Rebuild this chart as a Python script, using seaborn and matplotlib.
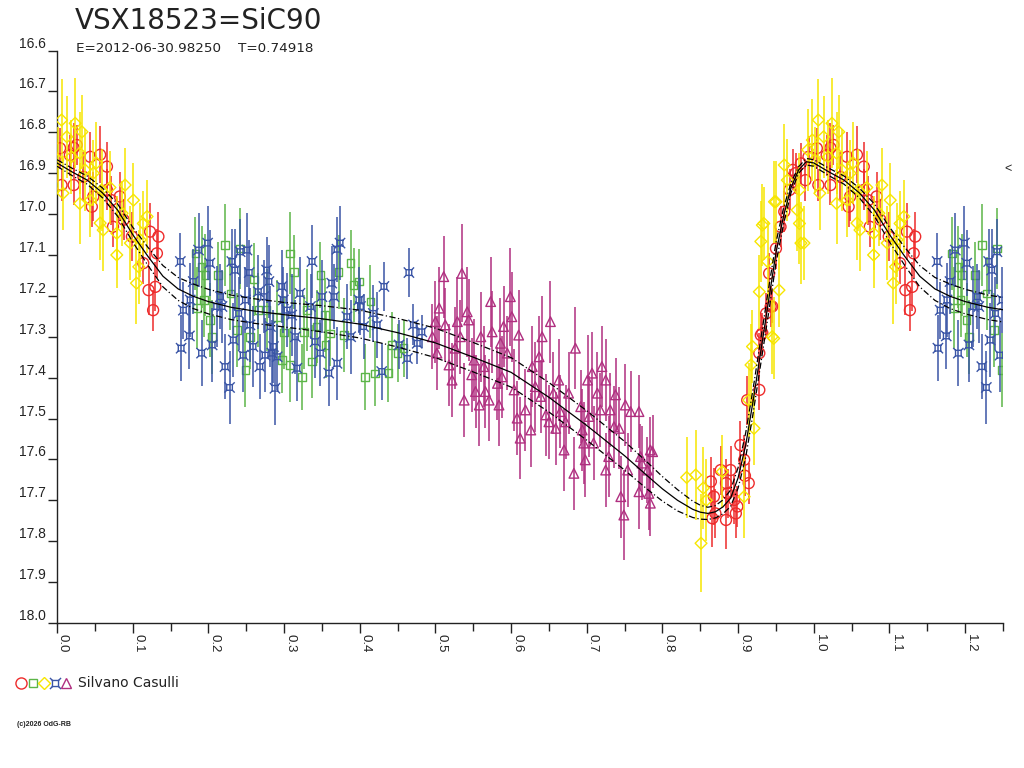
import numpy as np
import pandas as pd
import matplotlib
matplotlib.use("Agg")
import matplotlib.pyplot as plt
from matplotlib.path import Path
from matplotlib.lines import Line2D
import seaborn as sns

sns.set_theme(style="white")
plt.rcParams['font.family'] = ['Liberation Sans', 'DejaVu Sans']

# ---------------- data (phase, magnitude, error) ----------------
red_phase = [.004, .006, .017, .022, .022, .026, .035, .044, .046, .048, .057, .066, .066, .072, .074,
             .083, .088, .099, .114, .121, .123, .127, .130, .132, .134,
             .864, .866, .868, .870, .877, .884, .884, .886, .890, .895, .897, .899, .903, .908, .909,
             .912, .914, .928, .928, .930, .932, .937, .941, .943, .945, .950, .956, .961, .968, .972,
             .976, .983, .989, .993]
red_mag = [16.839, 16.929, 16.856, 16.929, 16.838, 16.831, 16.909, 16.860, 16.982, 16.957, 16.855, 16.884,
           16.941, 16.966, 17.031, 16.957, 17.014, 17.055, 17.120, 17.186, 17.043, 17.235, 17.178, 17.096,
           17.055,
           17.654, 17.744, 17.691, 17.732, 17.626, 17.748, 17.658, 17.683, 17.626, 17.699, 17.732, 17.715,
           17.565, 17.601, 17.640, 17.455, 17.658, 17.430, 17.340, 17.296, 17.291, 17.243, 17.145, 17.226,
           17.226, 17.084, 17.031, 16.994, 16.941, 16.892, 16.900, 16.876, 16.917, 16.860]
red_err = [.05, .04, .05, .05, .06, .05, .06, .06, .05, .06, .07, .06, .05, .06, .05, .06, .05, .06, .05,
           .06, .07, .05, .06, .06, .06,
           .06, .07, .07, .06, .06, .07, .06, .06, .06, .06, .06, .05, .06, .06, .05, .06, .05, .05, .05,
           .05, .05, .05, .05, .05, .04, .05, .05, .05, .05, .05, .05, .05, .05, .05]

yellow_phase = [.001, .006, .008, .013, .019, .024, .030, .030, .033, .037, .044, .048, .052, .057, .059,
                .061, .070, .079, .079, .086, .090, .097, .101, .105, .108, .110, .114, .119,
                .832, .844, .851, .854, .858, .879, .908, .914, .917, .919, .921, .928, .930, .932, .934,
                .939, .945, .947, .948, .950, .954, .961, .965, .978, .981, .981, .983, .987, .992, .998]
yellow_mag = [16.868, 16.770, 16.949, 16.811, 16.860, 16.778, 16.851, 16.974, 16.799, 16.892, 16.966,
              16.900, 16.875, 17.022, 16.941, 17.039, 16.935, 17.100, 17.047, 16.998, 16.929, 17.071,
              16.966, 17.169, 17.129, 17.063, 17.023, 17.006,
              17.644, 17.638, 17.805, 17.670, 17.700, 17.630, 17.691, 17.455, 17.369, 17.324, 17.524,
              17.190, 17.067, 17.027, 17.023, 17.116, 17.300, 17.304, 16.970, 16.970, 17.186, 16.880,
              16.917, 16.990, 16.941, 17.023, 17.071, 17.071, 16.843, 16.819]
yellow_err = [.08, .10, .09, .10, .09, .11, .10, .10, .09, .10, .09, .08, .10, .09, .10, .10, .09, .08,
              .09, .08, .09, .09, .09, .10, .09, .09, .08, .09,
              .10, .11, .12, .10, .10, .09, .10, .09, .10, .09, .09, .09, .10, .10, .09, .10, .09, .10,
              .10, .10, .09, .10, .10, .10, .09, .10, .10, .09, .10, .10]

green_phase = [.183, .185, .191, .194, .196, .202, .205, .213, .222, .229, .238, .242, .249, .255, .260,
               .266, .277, .291, .297, .300, .308, .308, .313, .324, .326, .330, .337, .343, .348, .354,
               .355, .361, .372, .379, .388, .392, .399, .407, .414, .420, .438, .443, .450, .458]
green_mag = [17.096, 17.230, 17.129, 17.210, 17.149, 17.259, 17.300, 17.149, 17.076, 17.194, 17.283,
             17.084, 17.381, 17.300, 17.160, 17.235, 17.235, 17.251, 17.357, 17.290, 17.096, 17.369,
             17.141, 17.398, 17.288, 17.235, 17.361, 17.275, 17.149, 17.247, 17.320, 17.292, 17.141,
             17.296, 17.120, 17.173, 17.165, 17.398, 17.214, 17.390, 17.389, 17.320, 17.340, 17.328]
green_err = [.09, .10, .10, .09, .10, .09, .09, .08, .10, .09, .09, .10, .09, .08, .09, .09, .10, .09,
             .08, .09, .10, .09, .09, .08, .09, .10, .09, .09, .08, .09, .08, .08, .09, .09, .08, .09,
             .08, .08, .09, .08, .07, .08, .07, .07]

blue_phase = [.163, .164, .167, .175, .176, .180, .187, .191, .199, .202, .205, .211, .216, .218, .222,
              .228, .231, .233, .235, .240, .242, .246, .249, .251, .254, .255, .259, .266, .268, .273,
              .275, .277, .280, .282, .284, .286, .288, .291, .297, .299, .304, .310, .315, .317, .321,
              .335, .337, .341, .348, .350, .359, .363, .366, .370, .370, .374, .383, .388, .399, .401,
              .405, .418, .423, .429, .432, .452, .463, .465, .471, .476, .482]
blue_mag = [17.116, 17.328, 17.235, 17.298, 17.210, 17.165, 17.088, 17.340, 17.071, 17.120, 17.320,
            17.226, 17.202, 17.226, 17.373, 17.424, 17.116, 17.308, 17.137, 17.243, 17.092, 17.345,
            17.210, 17.088, 17.143, 17.271, 17.324, 17.190, 17.373, 17.202, 17.345, 17.137, 17.165,
            17.275, 17.340, 17.324, 17.426, 17.349, 17.177, 17.210, 17.235, 17.247, 17.300, 17.377,
            17.194, 17.226, 17.116, 17.312, 17.340, 17.202, 17.389, 17.169, 17.202, 17.365, 17.086,
            17.071, 17.251, 17.300, 17.210, 17.226, 17.275, 17.243, 17.271, 17.385, 17.177, 17.320,
            17.353, 17.143, 17.271, 17.316, 17.288]
blue_err = [.07, .08, .07, .08, .09, .08, .09, .08, .09, .08, .09, .10, .08, .09, .08, .09, .08, .09,
            .10, .09, .08, .09, .08, .09, .08, .09, .10, .09, .08, .09, .09, .08, .09, .10, .08, .09,
            .09, .08, .09, .08, .09, .10, .09, .08, .09, .08, .09, .09, .08, .09, .08, .09, .08, .09,
            .08, .09, .08, .09, .08, .07, .08, .07, .08, .07, .06, .06, .05, .06, .05, .05, .04]

magenta_phase = [.496, .500, .502, .505, .511, .513, .518, .522, .526, .529, .533, .535, .538, .542, .544,
                 .548, .551, .553, .558, .560, .564, .566, .571, .573, .575, .582, .584, .586, .588, .590,
                 .595, .599, .601, .604, .608, .610, .612, .619, .626, .628, .632, .637, .639, .641, .646,
                 .650, .652, .656, .659, .663, .665, .670, .672, .676, .683, .685, .692, .694, .696, .698,
                 .701, .703, .707, .709, .714, .718, .720, .725, .725, .729, .731, .736, .738, .743, .745,
                 .749, .751, .754, .758, .769, .769, .771, .773, .780, .782, .784, .784, .787]
magenta_mag = [17.300, 17.263, 17.340, 17.230, 17.153, 17.271, 17.369, 17.406, 17.328, 17.263, 17.300,
               17.145, 17.455, 17.239, 17.259, 17.393, 17.357, 17.434, 17.467, 17.300, 17.373, 17.434,
               17.455, 17.214, 17.288, 17.414, 17.467, 17.316, 17.398, 17.275, 17.340, 17.202, 17.251,
               17.430, 17.499, 17.296, 17.548, 17.479, 17.528, 17.373, 17.422, 17.349, 17.446, 17.300,
               17.491, 17.508, 17.263, 17.438, 17.524, 17.406, 17.483, 17.577, 17.508, 17.438, 17.634,
               17.328, 17.471, 17.528, 17.560, 17.601, 17.406, 17.495, 17.389, 17.560, 17.438, 17.479,
               17.373, 17.406, 17.626, 17.593, 17.479, 17.520, 17.442, 17.524, 17.691, 17.736, 17.467,
               17.626, 17.483, 17.483, 17.679, 17.593, 17.609, 17.626, 17.683, 17.577, 17.707, 17.581]
magenta_err = [.08, .10, .09, .10, .10, .09, .10, .09, .10, .11, .09, .12, .09, .11, .10, .09, .10, .09,
               .10, .11, .10, .09, .10, .11, .10, .09, .10, .11, .10, .10, .09, .12, .11, .10, .09, .11,
               .10, .10, .09, .10, .11, .10, .09, .10, .10, .09, .10, .10, .09, .10, .09, .10, .09, .10,
               .09, .10, .09, .10, .10, .09, .11, .10, .10, .09, .10, .09, .10, .10, .09, .10, .09, .10,
               .09, .10, .10, .11, .10, .09, .10, .09, .09, .08, .09, .08, .09, .08, .08, .09]

# model light curve and its two envelopes
curve_phase = [0.0, .02, .04, .06, .08, .10, .12, .14, .16, .18, .20, .23, .26, .30, .35, .40, .45, .50,
               .55, .60, .65, .70, .75, .78, .80, .82, .84, .85, .86, .87, .88, .89, .90, .91, .92, .93,
               .94, .95, .96, .97, .98, .99, 1.0]
curve_mid = [16.875, 16.897, 16.917, 16.948, 16.990, 17.050, 17.103, 17.152, 17.183, 17.201, 17.214,
             17.228, 17.237, 17.246, 17.256, 17.269, 17.290, 17.315, 17.350, 17.387, 17.448, 17.517,
             17.591, 17.640, 17.672, 17.700, 17.722, 17.729, 17.732, 17.728, 17.716, 17.695, 17.645,
             17.565, 17.455, 17.335, 17.215, 17.095, 17.005, 16.935, 16.892, 16.872, 16.875]
curve_up = [16.867, 16.888, 16.907, 16.936, 16.975, 17.032, 17.081, 17.126, 17.155, 17.171, 17.184,
            17.198, 17.207, 17.216, 17.224, 17.235, 17.255, 17.279, 17.314, 17.351, 17.412, 17.481,
            17.556, 17.607, 17.642, 17.674, 17.702, 17.712, 17.717, 17.713, 17.699, 17.675, 17.620,
            17.535, 17.425, 17.305, 17.185, 17.070, 16.985, 16.923, 16.884, 16.864, 16.867]
curve_lo = [16.883, 16.906, 16.927, 16.960, 17.005, 17.068, 17.125, 17.178, 17.211, 17.231, 17.244,
            17.258, 17.267, 17.276, 17.288, 17.303, 17.325, 17.351, 17.386, 17.423, 17.484, 17.553,
            17.626, 17.673, 17.702, 17.726, 17.742, 17.746, 17.747, 17.743, 17.733, 17.715, 17.670,
            17.595, 17.485, 17.365, 17.245, 17.120, 17.025, 16.947, 16.900, 16.880, 16.883]

x_ticks = [0.0, 0.1, 0.2, 0.3, 0.4, 0.5, 0.6, 0.7, 0.8, 0.9, 1.0, 1.1, 1.2]
y_ticks = [16.6, 16.7, 16.8, 16.9, 17.0, 17.1, 17.2, 17.3, 17.4, 17.5, 17.6, 17.7, 17.8, 17.9, 18.0]

title = "VSX18523=SiC90"
subtitle = "E=2012-06-30.98250    T=0.74918"
observer = "Silvano Casulli"
credit = "(c)2026 OdG-RB"

# ---------------- styling ----------------
C_RED = "#ee2b2b"
C_GREEN = "#5cb548"
C_YELLOW = "#f7e600"
C_BLUE = "#3a55a6"
C_MAG = "#b02f80"
C_TEXT = "#222222"
WIDE = ['DejaVu Sans']

# blue "¤"-like marker: square with corner spikes
_v = [(-0.3, -0.3), (0.3, -0.3), (0.3, 0.3), (-0.3, 0.3), (-0.3, -0.3),
      (-0.3, -0.3), (-0.55, -0.55), (0.3, -0.3), (0.55, -0.55),
      (0.3, 0.3), (0.55, 0.55), (-0.3, 0.3), (-0.55, 0.55)]
_c = [Path.MOVETO, Path.LINETO, Path.LINETO, Path.LINETO, Path.CLOSEPOLY,
      Path.MOVETO, Path.LINETO, Path.MOVETO, Path.LINETO,
      Path.MOVETO, Path.LINETO, Path.MOVETO, Path.LINETO]
BLUE_MARK = Path(_v, _c)


def extend(ph, mg, er):
    """Phase-fold copy: points with phase < 0.25 are repeated at phase + 1."""
    df = pd.DataFrame({"phase": ph, "mag": mg, "err": er})
    rep = df[df.phase < 0.25].copy()
    rep["phase"] = rep["phase"] + 1.0
    return pd.concat([df, rep], ignore_index=True)


series = [
    (green_phase, green_mag, green_err, C_GREEN, "s", 30),
    (blue_phase, blue_mag, blue_err, C_BLUE, BLUE_MARK, 55),
    (magenta_phase, magenta_mag, magenta_err, C_MAG, "^", 48),
    (red_phase, red_mag, red_err, C_RED, "o", 62),
    (yellow_phase, yellow_mag, yellow_err, C_YELLOW, "D", 36),
]

fig = plt.figure(figsize=(10.24, 7.68), dpi=100)
fig.patch.set_facecolor("white")
ax = fig.add_axes([57 / 1024, 1 - 623 / 768, (1003 - 57) / 1024, (623 - 50.5) / 768])
ax.set_facecolor("white")

z = 2
for ph, mg, er, col, mk, s in series:
    df = extend(ph, mg, er)
    ax.vlines(df.phase, df.mag - df.err, df.mag + df.err, colors=col, linewidth=1.1, zorder=z)
    sns.scatterplot(x=df.phase.values, y=df.mag.values, ax=ax, marker=mk, s=s, color=col,
                    facecolor="none", edgecolor=col, linewidth=1.0, zorder=z + 0.5, legend=False)
    z += 1

# curves (0..1 plus the folded copy up to phase 1.26)
n_rep = sum(1 for p in curve_phase if 0 < p <= 0.26)
cp = list(curve_phase) + [1.0 + p for p in curve_phase[1:1 + n_rep]]
cm = list(curve_mid) + list(curve_mid[1:1 + n_rep])
cu = list(curve_up) + list(curve_up[1:1 + n_rep])
cl = list(curve_lo) + list(curve_lo[1:1 + n_rep])
cdf = pd.DataFrame({"phase": cp, "mid": cm, "up": cu, "lo": cl})
sns.lineplot(data=cdf, x="phase", y="mid", ax=ax, color="black", linewidth=0.9,
             sort=False, estimator=None, zorder=20)
for col_name in ["up", "lo"]:
    sns.lineplot(data=cdf, x="phase", y=col_name, ax=ax, color="black", linewidth=0.9,
                 sort=False, estimator=None, zorder=20, linestyle=(0, (5, 2, 1, 2)))

ax.set_xlim(0.0, 1.25)
ax.set_ylim(18.0, 16.6)
ax.set_xlabel("")
ax.set_ylabel("")
for sp in ["top", "right"]:
    ax.spines[sp].set_visible(False)
for sp in ["left", "bottom"]:
    ax.spines[sp].set_color(C_TEXT)
    ax.spines[sp].set_linewidth(1.0)

ax.set_xticks(x_ticks)
ax.set_xticklabels([f"{t:.1f}" for t in x_ticks])
ax.set_xticks([t + 0.05 for t in x_ticks[:-1]] + [1.25], minor=True)
ax.set_yticks(y_ticks)
ax.set_yticklabels([f"{t:.1f}" for t in y_ticks])
ax.tick_params(axis="x", which="major", direction="out", length=7.2, width=1, color=C_TEXT,
               pad=1, labelsize=9.5, labelcolor=C_TEXT)
ax.tick_params(axis="x", which="minor", direction="out", length=6, width=1, color=C_TEXT)
ax.tick_params(axis="y", which="major", direction="out", length=6.3, width=1, color=C_TEXT,
               pad=1.5, labelsize=10, labelcolor=C_TEXT)
ax.tick_params(left=True, bottom=True, which="both")
for lab in ax.get_xticklabels():
    lab.set_rotation(-90)
    lab.set_ha("left")
    lab.set_va("top")
for lab in ax.get_yticklabels():
    lab.set_va("bottom")

# text
fig.text(75 / 1024, 1 - 29 / 768, title, fontsize=20, color=C_TEXT, va="baseline", ha="left",
         family=WIDE)
fig.text(76 / 1024, 1 - 52 / 768, subtitle, fontsize=9.7, color=C_TEXT, va="baseline", ha="left",
         family=WIDE)
fig.text(1004 / 1024, 1 - 169 / 768, "<", fontsize=9, color=C_TEXT, va="center", ha="left")

# legend row at the bottom
lax = fig.add_axes([0, 0, 1, 1])
lax.set_xlim(0, 1024)
lax.set_ylim(768, 0)
lax.axis("off")
leg_items = [(21, C_RED, "o", 8), (33, C_GREEN, "s", 6), (44, C_YELLOW, "D", 6),
             (55, C_BLUE, BLUE_MARK, 8), (66, C_MAG, "^", 7)]
for xp, col, mk, ms in leg_items:
    lax.add_line(Line2D([xp], [683], marker=mk, markersize=ms, markerfacecolor="none",
                        markeredgecolor=col, markeredgewidth=1.0, linestyle="none"))
fig.text(78 / 1024, 1 - 683 / 768, observer, fontsize=10, color=C_TEXT, va="center", ha="left",
         family=WIDE)
fig.text(17 / 1024, 1 - 725 / 768, credit, fontsize=5, color=C_TEXT, va="center", ha="left",
         fontweight="bold")

fig.savefig("out.png", dpi=100, facecolor="white")
